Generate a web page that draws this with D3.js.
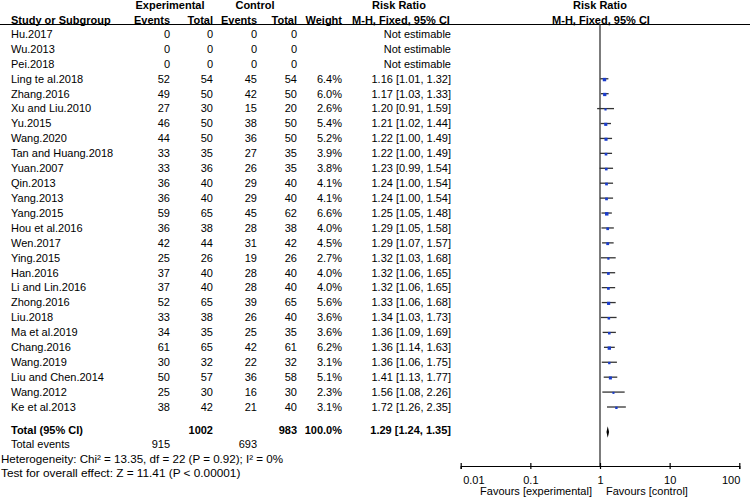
<!DOCTYPE html>
<html><head><meta charset="utf-8">
<script src="https://cdn.jsdelivr.net/npm/d3@7"></script>
<style>
body{margin:0;background:#fff;}
svg{display:block;font-family:"Liberation Sans",Arial,sans-serif;}
</style></head><body>
<svg id="c" width="750" height="499"></svg>
<script>
const studies=["Hu.2017","Wu.2013","Pei.2018","Ling te al.2018","Zhang.2016","Xu and Liu.2010","Yu.2015","Wang.2020","Tan and Huang.2018","Yuan.2007","Qin.2013","Yang.2013","Yang.2015","Hou et al.2016","Wen.2017","Ying.2015","Han.2016","Li and Lin.2016","Zhong.2016","Liu.2018","Ma et al.2019","Chang.2016","Wang.2019","Liu and Chen.2014","Wang.2012","Ke et al.2013"];
const expEvents=[0,0,0,52,49,27,46,44,33,33,36,36,59,36,42,25,37,37,52,33,34,61,30,50,25,38];
const expTotal=[0,0,0,54,50,30,50,50,35,36,40,40,65,38,44,26,40,40,65,38,35,65,32,57,30,42];
const ctrlEvents=[0,0,0,45,42,15,38,36,27,26,29,29,45,28,31,19,28,28,39,26,25,42,22,36,16,21];
const ctrlTotal=[0,0,0,54,50,20,50,50,35,35,40,40,62,38,42,26,40,40,65,40,35,61,32,58,30,40];
const weights=[null,null,null,6.4,6.0,2.6,5.4,5.2,3.9,3.8,4.1,4.1,6.6,4.0,4.5,2.7,4.0,4.0,5.6,3.6,3.6,6.2,3.1,5.1,2.3,3.1];
const rr=[null,null,null,1.16,1.17,1.20,1.21,1.22,1.22,1.23,1.24,1.24,1.25,1.29,1.29,1.32,1.32,1.32,1.33,1.34,1.36,1.36,1.36,1.41,1.56,1.72];
const ciLow=[null,null,null,1.01,1.03,0.91,1.02,1.00,1.00,0.99,1.00,1.00,1.05,1.05,1.07,1.03,1.06,1.06,1.06,1.03,1.09,1.14,1.06,1.13,1.08,1.26];
const ciHigh=[null,null,null,1.32,1.33,1.59,1.44,1.49,1.49,1.54,1.54,1.54,1.48,1.58,1.57,1.68,1.65,1.65,1.68,1.73,1.69,1.63,1.75,1.77,2.26,2.35];
const total={label:"Total (95% CI)",expTotal:1002,ctrlTotal:983,weight:"100.0%",rr:1.29,lo:1.24,hi:1.35};
const totalEvents={exp:915,ctrl:693};
const heterogeneity="Heterogeneity: Chi² = 13.35, df = 22 (P = 0.92); I² = 0%";
const overallTest="Test for overall effect: Z = 11.41 (P < 0.00001)";
const axisTicks=[0.01,0.1,1,10,100];
const axisTickLabels=["0.01","0.1","1","10","100"];
const favours=["Favours [experimental]","Favours [control]"];

const svg=d3.select("#c");
const fs=11;
const x=d3.scaleLog().domain([0.01,100]).range([460.7,739.3]);
const rowY=d3.scaleLinear().domain([0,1]).range([34,48.92]);
const nRows=studies.length;
const yKe=rowY(nRows-1);
const yTotal=yKe+23, yEv=yTotal+14.3, yHet=yEv+14.5, yTest=yHet+14.5;
const yAxis=466;
const cols={name:11,ee:170,et:213,ce:257,ct:297,w:342,ci:451};
const f2=d3.format(".2f");

function txt(xp,yp,s,anchor,bold,size){
  return svg.append("text").attr("x",xp).attr("y",yp).attr("dy","0.35em")
    .attr("text-anchor",anchor||"start").attr("font-size",size||fs)
    .attr("font-weight",bold?"bold":"normal").attr("fill","#000").text(s);
}
// headers
const h1=5.5,h2=20;
txt(170,h1,"Experimental","middle",true);
txt(255,h1,"Control","middle",true);
txt(399,h1,"Risk Ratio","middle",true);
txt(600,h1,"Risk Ratio","middle",true);
txt(cols.name,h2,"Study or Subgroup","start",true);
txt(cols.ee,h2,"Events","end",true);
txt(cols.et,h2,"Total","end",true);
txt(cols.ce,h2,"Events","end",true);
txt(cols.ct,h2,"Total","end",true);
txt(cols.w,h2,"Weight","end",true);
txt(401,h2,"M-H, Fixed, 95% CI","middle",true);
txt(601,h2,"M-H, Fixed, 95% CI","middle",true);
svg.append("line").attr("x1",0).attr("x2",750).attr("y1",24.5).attr("y2",24.5)
  .attr("stroke","#000").attr("stroke-width",1.2);

// vertical line at 1
svg.append("line").attr("x1",x(1)).attr("x2",x(1)).attr("y1",24.5).attr("y2",yAxis)
  .attr("stroke","#444").attr("stroke-width",1.4);

// rows
studies.forEach((s,i)=>{
  const y=rowY(i);
  txt(cols.name,y,s);
  txt(cols.ee,y,expEvents[i],"end");
  txt(cols.et,y,expTotal[i],"end");
  txt(cols.ce,y,ctrlEvents[i],"end");
  txt(cols.ct,y,ctrlTotal[i],"end");
  if(weights[i]!=null) txt(cols.w,y,weights[i].toFixed(1)+"%","end");
  if(rr[i]==null){ txt(cols.ci,y,"Not estimable","end"); return; }
  txt(cols.ci,y,`${f2(rr[i])} [${f2(ciLow[i])}, ${f2(ciHigh[i])}]`,"end");
  svg.append("line").attr("x1",x(ciLow[i])).attr("x2",x(ciHigh[i])).attr("y1",y).attr("y2",y)
    .attr("stroke","#333").attr("stroke-width",1.3);
  const sz=Math.sqrt(weights[i])*1.35;
  svg.append("rect").attr("x",x(rr[i])-sz/2).attr("y",y+0.8-sz/2).attr("width",sz).attr("height",sz)
    .attr("fill","#1a3ccc");
});

// totals
txt(cols.name,yTotal,total.label,"start",true);
txt(cols.et,yTotal,total.expTotal,"end",true);
txt(cols.ct,yTotal,total.ctrlTotal,"end",true);
txt(cols.w,yTotal,total.weight,"end",true);
txt(cols.ci,yTotal,`${f2(total.rr)} [${f2(total.lo)}, ${f2(total.hi)}]`,"end",true);
const dh=5.8, yD=yTotal+2;
svg.append("path").attr("d",`M${x(total.lo)},${yD}L${x(total.rr)},${yD-dh}L${x(total.hi)},${yD}L${x(total.rr)},${yD+dh}Z`)
  .attr("fill","#000");
txt(cols.name,yEv,"Total events");
txt(cols.ee,yEv,totalEvents.exp,"end");
txt(cols.ce,yEv,totalEvents.ctrl,"end");
txt(1,yHet,heterogeneity,"start",false,11.6);
txt(1,yTest,overallTest,"start",false,11.8);

// axis
const ax=svg.append("g").attr("transform",`translate(0,${yAxis})`)
  .call(d3.axisBottom(x).tickValues(axisTicks).tickFormat((d,i)=>axisTickLabels[i]).tickSize(3).tickPadding(7));
ax.select(".domain").attr("stroke","#000").attr("stroke-width",1.2);
ax.selectAll(".tick line").attr("y1",-3).attr("y2",3).attr("stroke","#000").attr("stroke-width",1.2);
const last=axisTicks.length-1;
ax.selectAll(".tick text").attr("font-size",fs).attr("font-family","Liberation Sans, Arial, sans-serif").attr("fill","#000")
  .attr("text-anchor",(d,i)=>i===0?"start":i===last?"end":"middle")
  .attr("x",(d,i)=>i===0?2:i===last?0.5:0);
txt(x(1)-8,yAxis+25,favours[0],"end");
txt(x(1)+6,yAxis+25,favours[1],"start");
</script></body></html>
